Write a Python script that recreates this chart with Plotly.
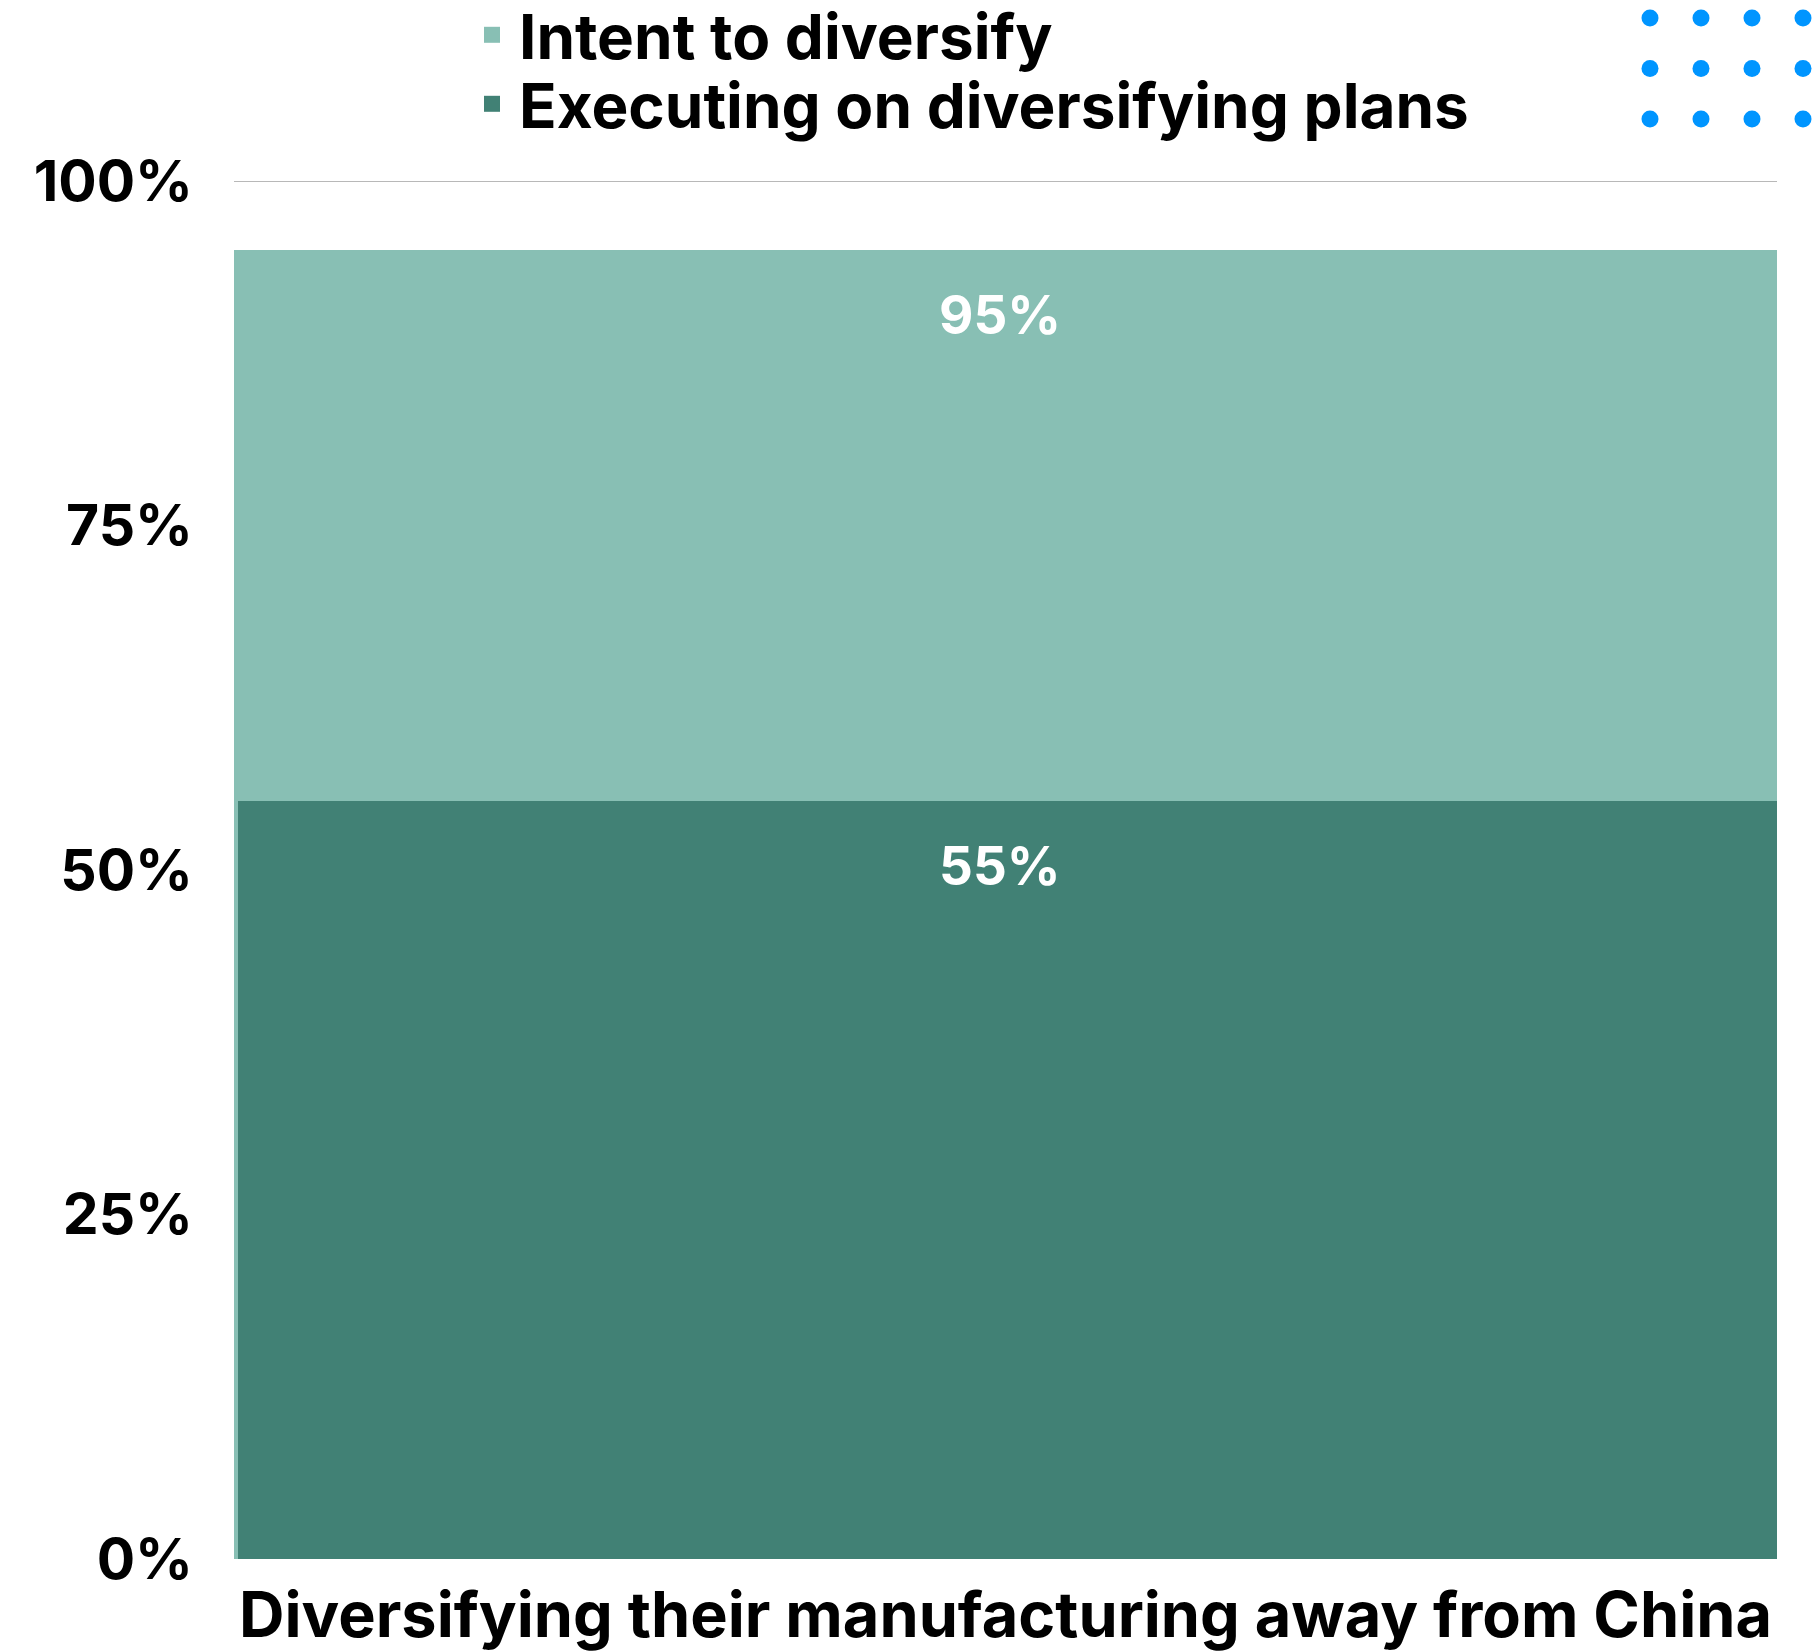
import plotly.graph_objects as go

# Survey share of companies, by stage of moving manufacturing out of China
category = ["Diversifying their manufacturing away from China"]
series_names = ["Intent to diversify", "Executing on diversifying plans"]
intent_values = [95]
executing_values = [55]
y_tick_values = [0, 25, 50, 75, 100]
y_tick_labels = ["0%", "25%", "50%", "75%", "100%"]

LIGHT = "#88BFB4"
DARK = "#418175"
FONT = "Inter"

W, H = 1814, 1651
ML, MR, MT, MB = 234, 37, 181, 92
PW, PH = W - ML - MR, H - MT - MB

fig = go.Figure()

# Overlaid bars: the taller "intent" bar sits behind the "executing" bar
fig.add_trace(go.Bar(
    x=category, y=intent_values, name=series_names[0],
    marker=dict(color=LIGHT, line=dict(width=0)),
    width=1.0, offset=-0.5, showlegend=False,
))
fig.add_trace(go.Bar(
    x=category, y=executing_values, name=series_names[1],
    marker=dict(color=DARK, line=dict(width=0)),
    width=0.9974, offset=-0.4974, showlegend=False,
))

# Legend entries with larger square swatches, one legend per row
for name, color, leg in zip(series_names, [LIGHT, DARK], ["legend", "legend2"]):
    fig.add_trace(go.Scatter(
        x=[None], y=[None], mode="markers", name=name, legend=leg,
        marker=dict(symbol="square", size=16, color=color),
    ))

# Value labels inside the top of each bar
for vals in (intent_values, executing_values):
    for cat, v in zip(category, vals):
        fig.add_annotation(
            x=cat, y=v, text=f"{v}%", showarrow=False,
            yanchor="middle", yshift=-65, xshift=-6,
            font=dict(family=FONT, size=53, color="white", weight=700),
        )

# Reference line at 100%
fig.add_shape(type="line", xref="paper", yref="y", x0=0, x1=1, y0=100, y1=100,
              line=dict(color="#B8B8B8", width=2), layer="below")

# Decorative dot grid, top-right corner
for col in range(4):
    for row in range(3):
        cx = 1650 + col * 51
        cy = 18 + row * 50.5
        fig.add_shape(
            type="circle", xref="paper", yref="paper",
            xsizemode="pixel", ysizemode="pixel",
            xanchor=(cx - ML) / PW, yanchor=(H - MB - cy) / PH,
            x0=-8.5, x1=8.5, y0=-8.5, y1=8.5,
            fillcolor="#0095FF", line=dict(width=0),
        )

legend_style = dict(
    xref="container", yref="container", xanchor="left", yanchor="middle",
    font=dict(family=FONT, size=62, color="black", weight=700),
    bgcolor="rgba(0,0,0,0)", borderwidth=0, itemclick=False, itemwidth=44,
)

fig.update_layout(
    width=W, height=H,
    margin=dict(l=ML, r=MR, t=MT, b=MB, pad=0, autoexpand=False),
    paper_bgcolor="white", plot_bgcolor="white",
    barmode="overlay", bargap=0,
    font=dict(family=FONT, size=60, color="black", weight=700),
    legend=dict(x=465 / W, y=1 - 35 / H, **legend_style),
    legend2=dict(x=465 / W, y=1 - 104 / H, **legend_style),
    xaxis=dict(
        range=[-0.5, 0.5], showgrid=False, zeroline=False, showline=False,
        ticks="", ticklabelstandoff=14, automargin=False,
        tickfont=dict(family=FONT, size=63, color="black", weight=700),
        fixedrange=True,
    ),
    yaxis=dict(
        range=[0, 100], tickmode="array",
        tickvals=y_tick_values, ticktext=y_tick_labels,
        showgrid=False, zeroline=False, showline=False, ticks="",
        ticklabelstandoff=40, automargin=False,
        tickfont=dict(family=FONT, size=57, color="black", weight=700),
        fixedrange=True,
    ),
)

fig.write_html("out.html")
